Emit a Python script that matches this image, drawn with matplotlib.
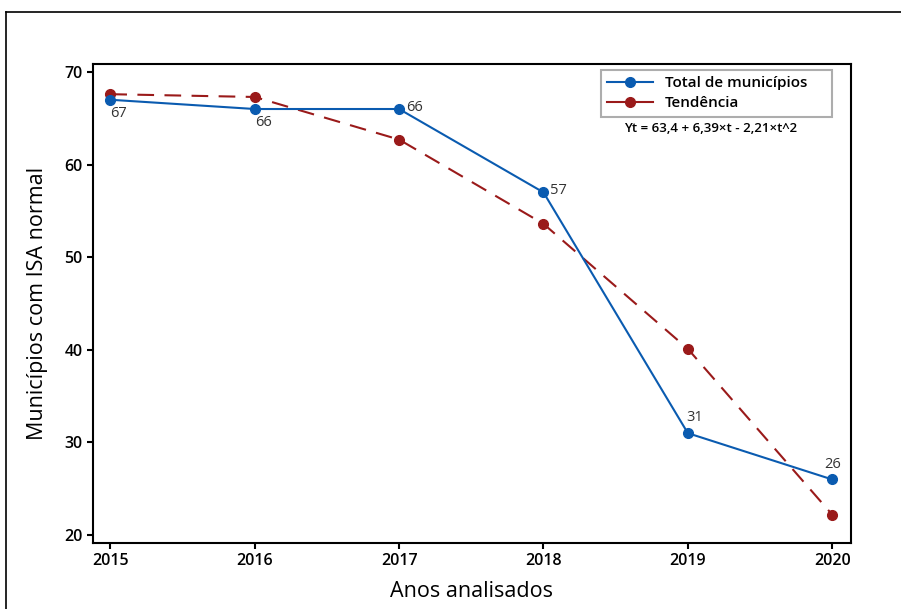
import matplotlib.pyplot as plt
from matplotlib.lines import Line2D

plt.rcParams['font.family'] = ['Open Sans', 'DejaVu Sans']

anos = [2015, 2016, 2017, 2018, 2019, 2020]
total = [67, 66, 66, 57, 31, 26]
tendencia = [67.6, 67.3, 62.7, 53.6, 40.1, 22.2]
rotulos = ['67', '66', '66', '57', '31', '26']
equacao = 'Yt = 63,4 + 6,39\u00d7t - 2,21\u00d7t^2'

azul = '#0a5bb0'
vermelho = '#9a1a1a'

fig = plt.figure(figsize=(9.01, 6.09), dpi=100)
ax = fig.add_axes([93 / 901, 1 - 543 / 609, (851 - 93) / 901, (543 - 64) / 609])

# moldura externa (apenas topo e esquerda visiveis)
fig.add_artist(Line2D([6 / 901, 6 / 901], [0, 1 - 12 / 609], color='black', lw=1.2))
fig.add_artist(Line2D([6 / 901, 1], [1 - 12 / 609, 1 - 12 / 609], color='black', lw=1.2))

ax.plot(anos, total, color=azul, lw=1.5, marker='o', ms=7, zorder=3)
ax.plot(anos, tendencia, color=vermelho, lw=1.5, ls=(0, (8, 5)), marker='o', ms=7, zorder=2)

# rotulos dos pontos
offsets = [(0, -10, 'left'), (0, -10, 'left'), (5, 1, 'left'),
           (5, 1, 'left'), (-1, 11, 'left'), (0, 11, 'center')]
for x, y, r, (dx, dy, ha) in zip(anos, total, rotulos, offsets):
    ax.annotate(r, (x, y), xytext=(dx, dy), textcoords='offset points',
                ha=ha, va='center', fontsize=10.5, color='#333333')

ax.set_xlim(2014.88, 2020.13)
ax.set_ylim(19.14, 70.86)
ax.set_xticks(anos)
ax.set_yticks([20, 30, 40, 50, 60, 70])
ax.tick_params(labelsize=11.5, width=1.5, length=4)
for lbl in ax.get_xticklabels() + ax.get_yticklabels():
    lbl.set_fontweight('semibold')
for s in ax.spines.values():
    s.set_linewidth(1.5)

ax.set_xlabel('Anos analisados', fontsize=15.5, fontweight='medium', labelpad=8)
ax.set_ylabel('Municípios com ISA normal', fontsize=15.5, fontweight='medium', labelpad=12)

handles = [Line2D([], [], color=azul, lw=1.5, marker='o', ms=7),
           Line2D([], [], color=vermelho, lw=1.5, marker='o', ms=7)]
leg = ax.legend(handles, ['Total de municípios', 'Tendência'],
                loc='upper left', mode='expand',
                bbox_to_anchor=((601 - 93) / 758, 1 - 11 / 479, (832 - 601) / 758, 0.01),
                fontsize=11, frameon=True, fancybox=False, borderpad=0.4,
                handlelength=3.0, handletextpad=0.8, labelspacing=0.4,
                borderaxespad=0)
leg.get_frame().set_edgecolor('#999999')
leg.get_frame().set_linewidth(1.5)
for t in leg.get_texts():
    t.set_fontweight('semibold')

ax.text((711 - 93) / 758, 1 - (128 - 64) / 479, equacao, transform=ax.transAxes,
        ha='center', va='center', fontsize=9.5, fontweight='semibold')

fig.savefig('out.png', dpi=100)
